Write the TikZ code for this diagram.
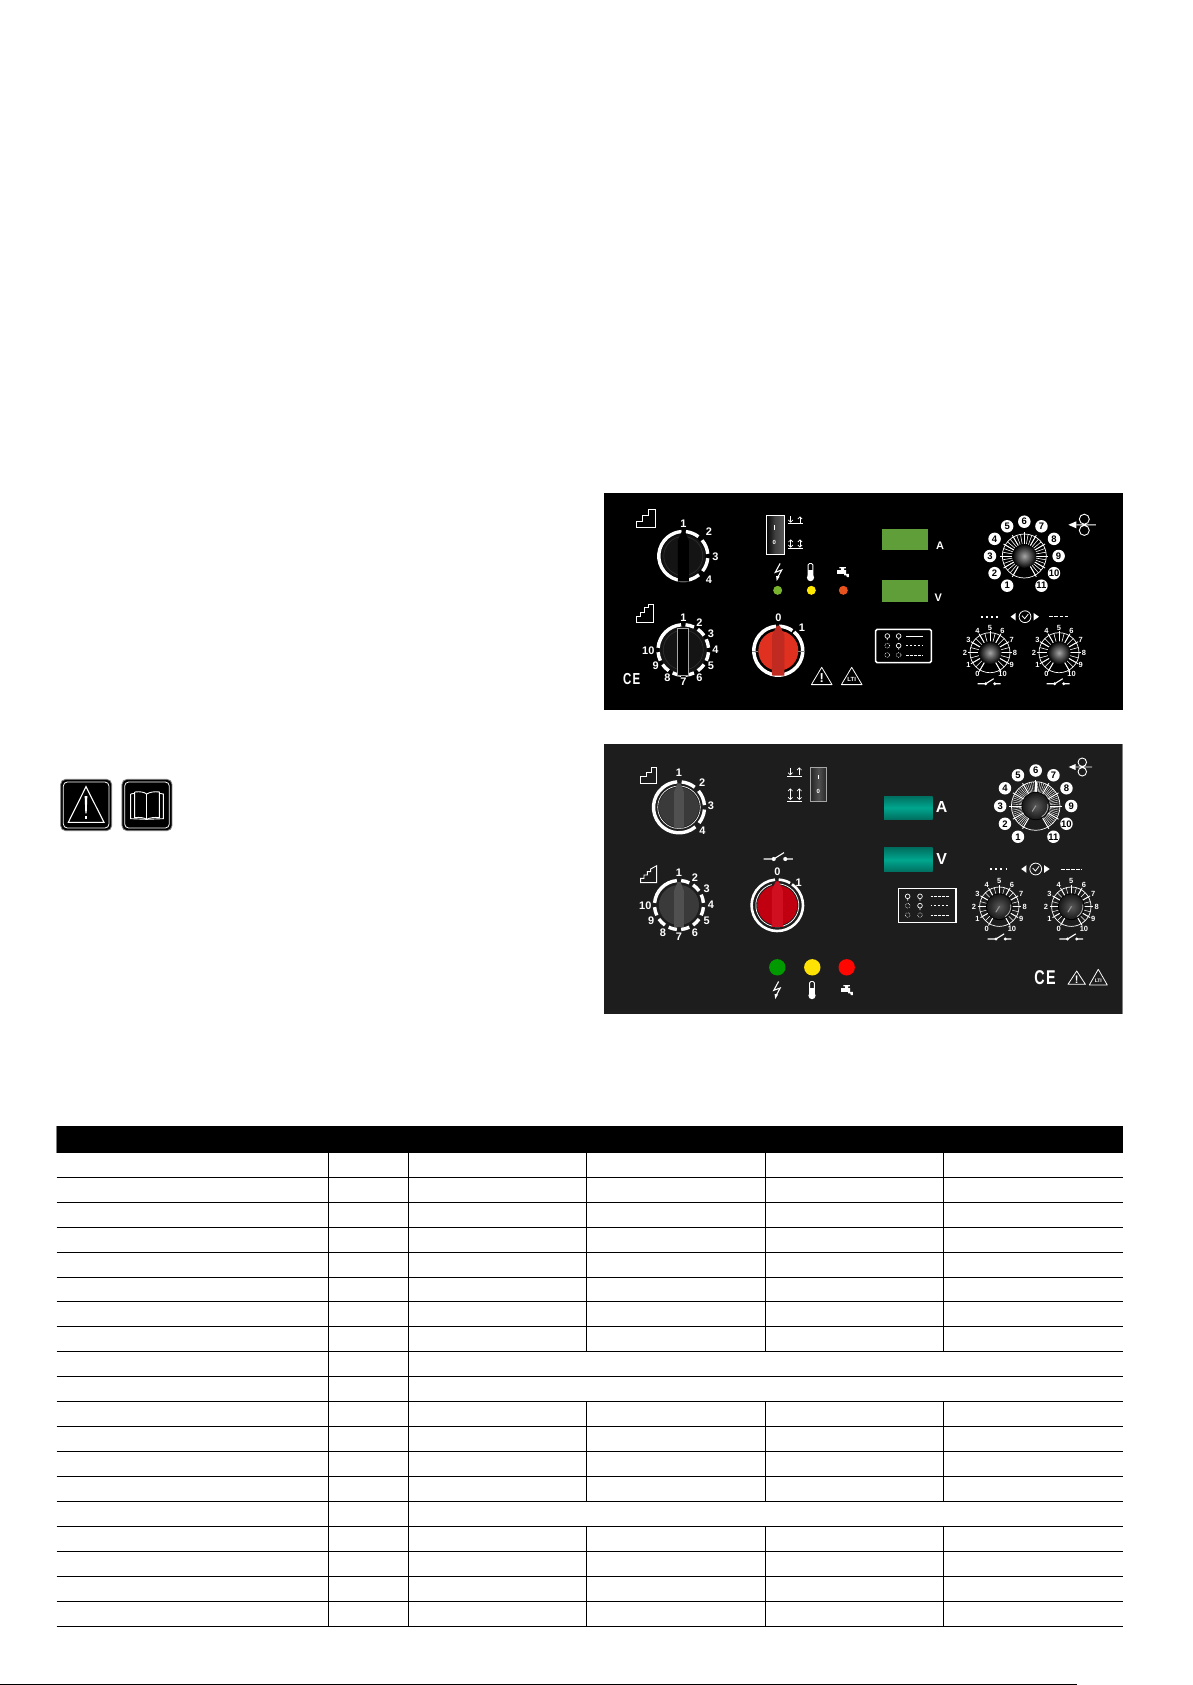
\documentclass[tikz,border=0pt]{standalone}
\usepackage{fontspec}
\setmainfont{Liberation Sans}
\usetikzlibrary{arrows.meta,shapes.geometric}
\definecolor{panelgrey}{HTML}{1D1D1D}
\definecolor{lcdgreen}{HTML}{5F9E38}
\definecolor{tealmid}{HTML}{00A68E}
\definecolor{tealdark}{HTML}{006F60}
\definecolor{knobred}{HTML}{E03020}
\definecolor{barred}{HTML}{E8404A}
\definecolor{baredge}{HTML}{C02A20}
\definecolor{ledgreen}{HTML}{7AB32E}
\definecolor{ledyellow}{HTML}{FFE800}
\definecolor{ledorange}{HTML}{E8521C}
\definecolor{greyA}{HTML}{3A3A3A}
\definecolor{greyB}{HTML}{707070}
\definecolor{greyC}{HTML}{505050}
\definecolor{greyD}{HTML}{989898}
\definecolor{greyE}{HTML}{5A5A5A}
\definecolor{redA}{HTML}{C00010}
\definecolor{redB}{HTML}{E82838}
\definecolor{redC}{HTML}{D01020}
\definecolor{redD}{HTML}{FF4055}
\tikzset{
  lab/.style={text=white,font=\bfseries\fontsize{11}{11}\selectfont,inner sep=0pt},
  labsm/.style={text=white,font=\bfseries\fontsize{7.5}{8}\selectfont,inner sep=0pt},
  numdisc/.style={circle,fill=white,text=black,font=\bfseries\fontsize{9.5}{10}\selectfont,inner sep=0pt,minimum size=12.5bp},
  ringline/.style={white,line width=3.4bp},
  tline/.style={black,line width=1bp},
  barb/.style={white,line width=0.7bp},
  zA/.style={shift={(600,-480)},x=0.33333bp,y=-0.33333bp},
  zB/.style={shift={(870,-480)},x=0.33333bp,y=-0.33333bp},
  zC/.style={shift={(600,-735)},x=0.33333bp,y=-0.33333bp},
  zD/.style={shift={(870,-735)},x=0.33333bp,y=-0.33333bp},
  zE/.style={shift={(40,-770)},x=0.33333bp,y=-0.33333bp},
}
\newcommand\ringseg[3]{\draw[ringline] (#2:#1) arc[start angle=#2,end angle=#3,radius=#1];}
\newcommand\ringfour[1]{\ringseg{#1}{84}{52}\ringseg{#1}{40}{5}\ringseg{#1}{-5}{-38}\ringseg{#1}{-50}{-266}}
\newcommand\ringten[1]{\foreach \a in {90,60,30,0,-30,-60,-90,-120,-150}{\ringseg{#1}{\a-5}{\a-25}}\ringseg{#1}{175}{95}}
\newcommand\barshape[4]{(-#1,#4) -- (-#1,#3-9) -- (-1.5,#3) -- (1.5,#3) -- (#2,#3-9) -- (#2,#4) -- cycle}
\newcommand\scaledial[7]{\begin{scope}[shift={(#1,#2)}]
  \draw[white,line width=0.7bp] (0,0) circle[radius=#3];
  \foreach \a in #6 {\draw[white,line width=#7] (\a:#5) -- (\a:#3);}
  \foreach \a in {-60,-30,...,240} {\draw[white,line width=0.9bp] (\a:#4) -- (\a:#3+2);}
\end{scope}}
\newcommand\knobOne[3]{\shade[shift={(#1,#2)},inner color=gray!70!white,outer color=black,draw=none] (0,0) circle[radius=#3];}
\newcommand\knobTwo[3]{\begin{scope}[shift={(#1,#2)}]
  \fill[black] (0,0) circle[radius=#3+0.8];
  \shade[inner color=greyE,outer color=black!90] (0,0) circle[radius=#3];
  \draw[gray!60,line width=0.8bp] (-60:#3-1) arc[start angle=-60,end angle=10,radius=#3-1];
  \draw[gray!80,line width=1bp] (0.2,0.4) -- (-3.5,-5.5);
\end{scope}}
\newcommand\swsym[4]{\begin{scope}[shift={(#1,#2)},scale=#3]
  \draw[white,line width=1.1bp] (0,0) -- (8,0) -- (16,#4) (17,0) -- (23,0);
  \fill[white] (8,0) circle[radius=1.6] (17,0) circle[radius=1.6];
\end{scope}}
\newcommand\timesym[2]{\begin{scope}[shift={(#1,#2)}]
  \draw[white,line width=0.8bp] (0,0) circle[radius=5.9];
  \draw[white,line width=0.8bp] (-3,1) -- (-0.3,-2) -- (3.3,2.6);
  \fill[white] (-14.5,0) -- (-9.3,3.8) -- (-9.3,-3.8) -- cycle;
  \fill[white] (14,0) -- (8.5,3.8) -- (8.5,-3.8) -- cycle;
\end{scope}}
\newcommand\dotsline[3]{\draw[white,line width=1.6bp,dash pattern=on 1.8bp off 3.4bp] (#1,#3) -- (#2,#3);}
\newcommand\dashline[3]{\draw[white,line width=1bp,dash pattern=on 3.6bp off 1.5bp] (#1,#3) -- (#2,#3);}
\newcommand\feedsym[3]{\begin{scope}[shift={(#1,#2)},scale=#3]
  \draw[white,line width=0.9bp] (0,5.6) circle[radius=5] (0,-5.6) circle[radius=5] (-8,0) -- (11.5,0);
  \fill[white] (-16,0) -- (-8,3.5) -- (-8,-3.5) -- cycle;
\end{scope}}
\newcommand\boltico[2]{\begin{scope}[shift={(#1,#2)}]
  \draw[white,line width=1.1bp] (1.6,8.5) -- (-3.2,-0.3) -- (3.2,2) -- (-0.6,-5);
  \fill[white] (-1.8,-9) -- (1.1,-4.5) -- (-2.4,-4) -- cycle;
\end{scope}}
\newcommand\thermico[2]{\begin{scope}[shift={(#1,#2)}]
  \draw[white,line width=0.9bp,rounded corners=1.4bp] (-2.4,-4) -- (-2.4,8.5) -- (2.4,8.5) -- (2.4,-4);
  \fill[white] (-2.4,-5) rectangle (2.4,2);
  \fill[white] (0,-5.6) circle[radius=3.6];
\end{scope}}
\newcommand\tapico[2]{\begin{scope}[shift={(#1,#2)}]
  \fill[white] (-6,-1.8) rectangle (3,1.8) (-1.8,1.8) rectangle (1,4) (-3.6,3.6) rectangle (2.8,5);
  \fill[white] (1,-1.8) -- (5.8,-1.8) -- (6,-5) -- (3.8,-5) -- (3.4,-3.5) -- (1,-3.2) -- cycle;
\end{scope}}
\newcommand\warnicon[5]{\draw[white,line width=0.8bp,line join=round] (#1,#2) -- (#1-#3,#2-#4) -- (#1+#3,#2-#4) -- cycle;
  \node[text=white,font=\bfseries\fontsize{#5}{#5}\selectfont,inner sep=0pt] at (#1,#2-0.64*#4) {!};}
\newcommand\warnlti[5]{\draw[white,line width=0.8bp,line join=round] (#1,#2) -- (#1-#3,#2-#4) -- (#1+#3,#2-#4) -- cycle;
  \node[text=white,font=\bfseries\fontsize{#5}{#5}\selectfont,inner sep=0pt] at (#1,#2-0.72*#4) {LTI};}
\newcommand\updown[4]{% x y1 y2 : down and up arrows handled by caller
}
\begin{document}
\begin{tikzpicture}[x=1bp,y=1bp,>={Straight Barb[length=2.2bp,width=4.4bp]}]
\useasboundingbox (0,0) rectangle (1192,-1685);
\fill[white] (0,0) rectangle (1192,-1685);

%================ left icons
\begin{scope}[zE]
  \draw[gray,line width=0.8bp,fill=black,rounded corners=5bp] (62,28) rectangle (215,182);
  \draw[white,line width=0.8bp,rounded corners=4bp] (70,36) rectangle (207,174);
  \draw[white,line width=1.1bp,line join=miter] (138,50) -- (85,157) -- (192,157) -- cycle;
  \fill[white] (134,78) -- (142,78) -- (140,130) -- (136,130) -- cycle;
  \fill[white] (134,138) rectangle (142,147);
  \draw[gray,line width=0.8bp,fill=black,rounded corners=5bp] (246,28) rectangle (396,182);
  \draw[white,line width=0.8bp,rounded corners=4bp] (254,36) rectangle (388,174);
  \draw[white,line width=0.9bp] (272,72) -- (272,146) -- (320,148) -- (370,146) -- (370,72) -- (358,70);
  \draw[white,line width=0.9bp] (272,72) -- (284,70);
  \draw[white,line width=0.9bp] (284,66) -- (284,143) .. controls (300,141) and (312,143) .. (320,148) .. controls (330,143) and (344,141) .. (358,143) -- (358,66) .. controls (344,64) and (330,66) .. (320,72) .. controls (312,66) and (300,64) .. (284,66);
  \draw[white,line width=0.9bp] (320,72) -- (320,148);
\end{scope}

%================ panel 1
\fill[black] (604,-493) rectangle (1122.7,-710);
\begin{scope}[zA]
  \draw[white,line width=1bp,line join=miter] (110,143) -- (110,125) -- (128,125) -- (128,107) -- (146,107) -- (146,88) -- (165,88) -- (165,143) -- cycle;
  \draw[white,line width=1bp,line join=miter] (108,426) -- (108,410) -- (120,410) -- (120,396) -- (134,396) -- (134,383) -- (146,383) -- (146,372) -- (159,372) -- (159,426) -- cycle;
  \draw[white,line width=1bp,left color=black,right color=gray!70!black,middle color=black!75] (498,105) rectangle (552,222);
  \draw[white!80,line width=0.6bp] (523,135) -- (523,150);
  \node[text=white,font=\bfseries\fontsize{6}{6}\selectfont,inner sep=0pt] (p1sw0) at (523,188) {0};
  \draw[white,line width=0.7bp] (565,131) -- (608,131) (565,205) -- (608,205);
  \draw[barb,->] (572,109) -- (572,128);
  \draw[barb,->] (600,128) -- (600,109);
  \draw[barb,<->] (572,178) -- (572,203);
  \draw[barb,<->] (600,178) -- (600,203);
  \fill[ledgreen] (533,331) circle[radius=13.5];
  \fill[ledyellow] (634,331) circle[radius=13.5];
  \fill[ledorange] (730,331) circle[radius=13.5];
\end{scope}
\boltico{778.5}{-572}
\thermico{810.5}{-572}
\tapico{843}{-572}
% knob 1
\begin{scope}[shift={(683.3,-556)}]
  \fill[black!92] (0,0) circle[radius=22];
  \draw[gray!40!black,line width=0.5bp] (0,0) circle[radius=19.5];
  \ringfour{24.5}
  \shade[left color=black,middle color=greyE,right color=black] \barshape{5.5}{5.5}{24.5}{-25.5};
  \foreach \n/\a/\r in {1/90/32,2/43/35,3/-1/32,4/-43/35} \node[lab] (p1a\n) at (\a:\r) {\n};
\end{scope}
% knob 2
\begin{scope}[shift={(683.3,-650)}]
  \fill[black!92] (0,0) circle[radius=24];
  \draw[gray!40!black,line width=0.5bp] (0,0) circle[radius=20];
  \ringten{25.3}
  \draw[gray!70,line width=0.5bp,fill=black] (-6,21.7) -- (-6,-25) -- (5.3,-25) -- (5.3,21.7) -- cycle;
  \foreach \n/\a in {1/90,2/60,3/30,4/0,5/-30,6/-60,7/-90,8/-120,9/-150} \node[lab] (p1b\n) at (\a:32) {\n};
  \node[lab] (p1b10) at (-35,-0.5) {10};
\end{scope}
% red knob
\begin{scope}[shift={(778.3,-650.7)}]
  \fill[knobred] (0,0) circle[radius=20];
  \draw[white,line width=3.5bp] (50:24.5) arc[start angle=50,end angle=-265,radius=24.5];
  \draw[white,line width=3.5bp] (88:24.5) arc[start angle=88,end angle=55,radius=24.5];
  \draw[gray,line width=0.4bp] (-26.5,0) -- (-20,0) (20,0) -- (26.5,0);
  \shade[left color=baredge,middle color=barred,right color=baredge] \barshape{6}{6}{25}{-25};
  \node[lab] (p1r0) at (0,33) {0};
  \node[lab] (p1r1) at (23.7,23) {1};
\end{scope}
\warnicon{821.7}{-667.3}{10.3}{17.3}{13}
\warnlti{851.7}{-667.3}{10.3}{17.3}{6}
\node[xscale=0.72,text=white,font=\bfseries\fontsize{16}{16}\selectfont,inner sep=0pt] (p1ce) at (631.7,-679.3) {C\kern1.5pt E};
\fill[lcdgreen] (882,-529.3) rectangle (928,-550);
\fill[lcdgreen] (882,-580) rectangle (928,-601.7);
\node[text=white,font=\bfseries\fontsize{11}{11}\selectfont,inner sep=0pt] (p1A) at (940,-546) {A};
\node[text=white,font=\bfseries\fontsize{11}{11}\selectfont,inner sep=0pt] (p1V) at (938.3,-597.3) {V};
\begin{scope}[zB]
  \draw[white,line width=1.5bp,rounded corners=1.5bp] (17,448) rectangle (184,548);
  \draw[white,line width=0.7bp] (52,468) circle[radius=7] (86,468) circle[radius=7] (52,475) -- (52,480) (86,475) -- (86,480);
  \draw[white,line width=0.7bp] (86,497) circle[radius=7] (86,504) -- (86,509);
  \draw[white,line width=0.7bp,densely dotted] (52,497) circle[radius=7] (52,525) circle[radius=7] (86,525) circle[radius=7];
  \draw[white!85,line width=0.9bp] (108,468) -- (160,468);
  \draw[white!85,line width=0.8bp,dash pattern=on 1.5bp off 2.5bp] (108,497) -- (160,497);
  \draw[white!85,line width=0.9bp,dash pattern=on 3bp off 1bp] (108,525) -- (160,525);
\end{scope}
\scaledial{1024.3}{-556}{22}{12}{12}{{-60,-50,...,240}}{0.6bp}
\knobOne{1024.3}{-556}{12}
\begin{scope}[shift={(1024.3,-556)}]
  \foreach \n/\a in {1/240,2/210,3/180,4/150,5/120,6/90,7/60,8/30,9/0,10/-30,11/-60}
    \node[numdisc] (p1f\n) at (\a:34.3) {\n};
\end{scope}
\feedsym{1084.3}{-524.8}{1}
\timesym{1025}{-616.7}
\dotsline{980.7}{1001}{-616.7}
\dashline{1049.3}{1069}{-616.7}
\foreach \c/\p in {990/p1s,1059/p1t}{
  \scaledial{\c}{-652.7}{20}{10}{10}{{-60,-45,...,240}}{0.6bp}
  \knobOne{\c}{-652.7}{11.5}
  \begin{scope}[shift={(\c,-652.7)}]
    \foreach \n/\a in {0/240,1/210,2/180,3/150,4/120,5/90,6/60,7/30,8/0,9/-30,10/-60}
      \node[labsm] (\p\n) at (\a:25) {\n};
  \end{scope}
}
\swsym{977.7}{-683.7}{1}{5}
\swsym{1046.7}{-683.7}{1}{5}

%================ panel 2
\fill[panelgrey] (604,-744) rectangle (1122.7,-1014);
\draw[gray,line width=0.8bp] (1122.7,-744) -- (1122.7,-1014);
\begin{scope}[zC]
  \draw[white!85,line width=0.9bp,line join=miter] (122,145) -- (122,124) -- (138,124) -- (138,111) -- (154,111) -- (154,97) -- (170,97) -- (170,145) -- cycle;
  \draw[white!85,line width=0.9bp,line join=miter] (122,443) -- (122,430) -- (132,430) -- (132,420) -- (142,420) -- (142,410) -- (152,410) -- (152,402) -- (170,392) -- (170,443) -- cycle;
  \draw[gray!70!white,line width=1bp,left color=black!85,right color=black!85,middle color=greyC] (632,96) rectangle (680,200);
  \draw[white,line width=0.6bp] (655,120) -- (655,132);
  \node[text=white,font=\bfseries\fontsize{6}{6}\selectfont,inner sep=0pt] (p2sw0) at (655,170) {0};
  \draw[white,line width=0.7bp] (562,123) -- (606,123) (562,198) -- (606,198);
  \draw[barb,->] (571,98) -- (571,121);
  \draw[barb,->] (598,120) -- (598,97);
  \draw[barb,<->] (571,160) -- (571,195);
  \draw[barb,<->] (598,160) -- (598,195);
\end{scope}
\begin{scope}[shift={(679,-807.3)}]
  \shade[left color=greyA,middle color=greyB,right color=greyA] (0,0) circle[radius=20];
  \draw[white,line width=0.6bp] (0,0) circle[radius=21.3];
  \ringfour{25.5}
  \shade[left color=greyC,middle color=greyD,right color=greyC] \barshape{5}{5}{24}{-21};
  \foreach \n/\a/\r in {1/90/35,2/47/34,3/3/32,4/-45/33} \node[lab] (p2a\n) at (\a:\r) {\n};
\end{scope}
\begin{scope}[shift={(679,-905)}]
  \shade[left color=greyA,middle color=greyB,right color=greyA] (0,0) circle[radius=20];
  \ringten{24.5}
  \shade[left color=greyC,middle color=greyD,right color=greyC] \barshape{5}{5}{23}{-22};
  \foreach \n/\a in {1/90,2/60,3/30,4/0,5/-30,6/-60,7/-90,8/-120,9/-150} \node[lab] (p2b\n) at (\a:32) {\n};
  \node[lab] (p2b10) at (-33.7,-1) {10};
\end{scope}
\begin{scope}[shift={(777.3,-905.3)}]
  \shade[left color=redA,middle color=redB,right color=redA] (0,0) circle[radius=20];
  \draw[white,line width=0.7bp] (85:21.5) arc[start angle=85,end angle=-255,radius=21.5];
  \draw[white,line width=2.6bp] (55:25.7) arc[start angle=55,end angle=-265,radius=25.7];
  \draw[white,line width=2.6bp] (87:25.7) arc[start angle=87,end angle=60,radius=25.7];
  \shade[left color=redC,middle color=redD,right color=redC] \barshape{5.5}{5.5}{24}{-21.5};
  \node[lab] (p2r0) at (0,34) {0};
  \node[lab] (p2r1) at (21.3,23) {1};
\end{scope}
\swsym{763.5}{-859}{1.28}{5}
\foreach \x/\c/\q in {777.3/green!60!black/a,812.3/yellow!85!orange/b,846.7/red!95!orange/c}
  \fill[\c] (\x,-967.3) circle[radius=8.2];
\boltico{777}{-990}
\thermico{812}{-990}
\tapico{847}{-990}
\shade[top color=tealdark,bottom color=tealdark,middle color=tealmid] (884,-796) rectangle (932.7,-819.3);
\shade[top color=tealdark,bottom color=tealdark,middle color=tealmid] (884,-847.7) rectangle (932.7,-871.7);
\node[text=white,font=\bfseries\fontsize{16}{16}\selectfont,inner sep=0pt] (p2A) at (941.7,-806.7) {A};
\node[text=white,font=\bfseries\fontsize{16}{16}\selectfont,inner sep=0pt] (p2V) at (941.7,-859.3) {V};
\begin{scope}[zD]
  \draw[white,line width=1.3bp] (86,460) rectangle (258,563);
  \draw[white,line width=0.7bp] (113,484) circle[radius=7] (150,484) circle[radius=7] (113,491) -- (113,497) (150,491) -- (150,497);
  \draw[white,line width=0.7bp] (150,512) circle[radius=7] (150,519) -- (150,525);
  \draw[white,line width=0.6bp,densely dotted] (113,512) circle[radius=7] (113,540) circle[radius=7] (150,540) circle[radius=7];
  \draw[white,line width=0.8bp,dash pattern=on 2.8bp off 1bp] (182,484) -- (236,484);
  \draw[white,line width=1.4bp,dash pattern=on 1.8bp off 2bp] (182,512) -- (236,512);
  \draw[white,line width=0.8bp,dash pattern=on 2.8bp off 1bp] (182,540) -- (236,540);
\end{scope}
\scaledial{1035.7}{-806}{24.3}{13}{13}{{-60,-55,...,240}}{0.4bp}
\knobTwo{1035.7}{-806}{13.3}
\begin{scope}[shift={(1035.7,-806)}]
  \foreach \n/\a in {1/240,2/210,3/180,4/150,5/120,6/90,7/60,8/30,9/0,10/-30,11/-60}
    \node[numdisc] (p2f\n) at (\a:35.5) {\n};
\end{scope}
\feedsym{1082.3}{-767}{0.85}
\timesym{1035.7}{-869}
\dotsline{990}{1009}{-869}
\dashline{1061}{1082}{-869}
\foreach \c/\p in {999.3/p2s,1071.3/p2t}{
  \scaledial{\c}{-906.7}{19.7}{12}{13}{{-60,-45,...,240}}{0.5bp}
  \knobTwo{\c}{-906.7}{12.5}
  \begin{scope}[shift={(\c,-906.7)}]
    \foreach \n/\a in {0/240,1/210,2/180,3/150,4/120,5/90,6/60,7/30,8/0,9/-30,10/-60}
      \node[labsm] (\p\n) at (\a:25.3) {\n};
  \end{scope}
}
\swsym{987.7}{-939}{1.03}{5}
\swsym{1059.3}{-939}{1.03}{5}
\node[xscale=0.72,text=white,font=\bfseries\fontsize{20}{20}\selectfont,inner sep=0pt] (p2ce) at (1045,-977.7) {C\kern2pt E};
\warnicon{1076.7}{-971}{8.7}{13.3}{11}
\warnlti{1098.3}{-969.3}{9}{15.7}{5}

%================ table
\fill[gray] (55.7,-1126) rectangle (56.7,-1152.7);
\fill[black] (56.7,-1126) rectangle (1122.7,-1152.7);
\foreach \y in {1177.3,1202.3,1227.3,1252.3,1277.3,1301.7,1326.7,1351.3,1376.3,1401.3,1426,1451.2,1476.3,1501.6,1526.6,1551.6,1576.6,1601.5,1626.3}
  \draw[tline] (56.7,-\y) -- (1122.7,-\y);
\foreach \x in {328.3,408.7}
  \draw[tline] (\x,-1152.7) -- (\x,-1626.3);
\foreach \x in {586,765.7,943.3}{
  \draw[tline] (\x,-1152.7) -- (\x,-1351.3);
  \draw[tline] (\x,-1401.3) -- (\x,-1501.6);
  \draw[tline] (\x,-1526.6) -- (\x,-1626.3);
}
\draw[tline] (0,-1684.3) -- (1076.7,-1684.3);
\end{tikzpicture}
\end{document}
